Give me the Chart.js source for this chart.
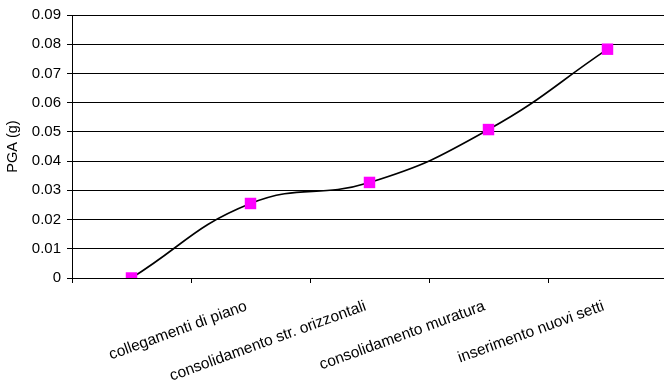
<!DOCTYPE html>
<html>
<head>
<meta charset="utf-8">
<script src="https://cdn.jsdelivr.net/npm/chart.js@4"></script>
<style>
  html, body { margin: 0; padding: 0; background: #fff; overflow: hidden; }
  #wrap { width: 664px; height: 390px; overflow: hidden; position: relative; }
  canvas { display: block; }
</style>
</head>
<body>
<div id="wrap"><canvas id="chart" width="680" height="390"></canvas></div>
<script>
// Intervention categories (first slot is the unreinforced state, left unlabelled)
const categories = ['', 'collegamenti di piano', 'consolidamento str. orizzontali', 'consolidamento muratura', 'inserimento nuovi setti'];
// PGA reached after each intervention, in g
const pgaValues = [0, 0.0255, 0.0327, 0.0508, 0.0783];
// Y axis tick labels
const yTickLabels = ['0', '0.01', '0.02', '0.03', '0.04', '0.05', '0.06', '0.07', '0.08', '0.09'];
const yAxisTitle = 'PGA (g)';

const FONT = '"Liberation Sans", Arial, sans-serif';
Chart.defaults.font.family = FONT;
Chart.defaults.font.size = 14;
Chart.defaults.color = '#000';

new Chart(document.getElementById('chart'), {
  type: 'line',
  data: {
    labels: categories,
    datasets: [{
      data: pgaValues,
      borderColor: '#000',
      borderWidth: 1.6,
      tension: 0.45,
      fill: false,
      pointStyle: 'rect',
      pointRadius: 8.1,
      pointHoverRadius: 8.1,
      pointBackgroundColor: '#ff00ff',
      pointBorderColor: '#ff00ff',
      pointBorderWidth: 0
    }]
  },
  options: {
    responsive: false,
    animation: false,
    devicePixelRatio: 1,
    layout: { padding: { top: 15, right: 13, left: 0, bottom: 0 } },
    plugins: { legend: { display: false }, tooltip: { enabled: false } },
    scales: {
      x: {
        type: 'category',
        offset: true,
        grid: {
          offset: true,
          drawOnChartArea: false,
          drawTicks: true,
          tickLength: 5,
          color: '#000',
          lineWidth: 1
        },
        border: { color: '#000', width: 1 },
        ticks: {
          autoSkip: false,
          minRotation: 20,
          maxRotation: 20,
          padding: 14,
          labelOffset: -4,
          font: { size: 15.5 }
        },
        afterFit: s => { s.height = 112; }
      },
      y: {
        min: 0,
        max: 0.09,
        ticks: {
          stepSize: 0.01,
          padding: 6,
          font: { size: 15 },
          callback: (v, i) => yTickLabels[i]
        },
        grid: {
          color: '#000',
          lineWidth: 1,
          tickLength: 5,
          drawTicks: true
        },
        border: { color: '#000', width: 1 },
        title: {
          display: true,
          text: yAxisTitle,
          font: { size: 14.5 },
          padding: { top: 4, bottom: 0 }
        },
        afterFit: s => { s.width = 72; }
      }
    }
  }
});
</script>
</body>
</html>
